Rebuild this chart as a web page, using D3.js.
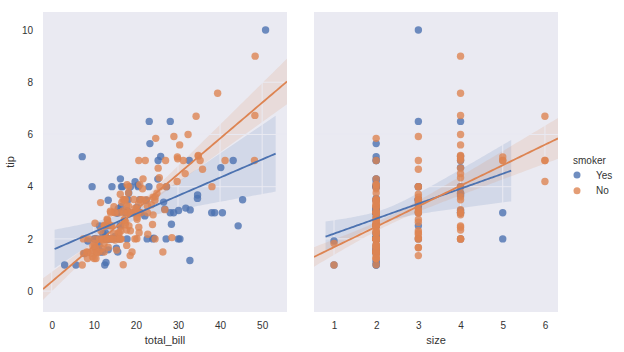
<!DOCTYPE html>
<html>
<head>
<meta charset="utf-8">
<script src="https://cdn.jsdelivr.net/npm/d3@7"></script>
<style>
  body { margin: 0; background: #fff; }
  text { font-family: "Liberation Sans", Arial, sans-serif; fill: #333; }
</style>
</head>
<body>
<div id="container"></div>
<script>
/* DATA (tips: total_bill, tip, size, smoker) */
const totalBill = [16.99,10.34,21.01,23.68,24.59,25.29,8.77,26.88,15.04,14.78,
  10.27,35.26,15.42,18.43,14.83,21.58,10.33,16.29,16.97,20.65,
  17.92,20.29,15.77,39.42,19.82,17.81,13.37,12.69,21.7,19.65,
  9.55,18.35,15.06,20.69,17.78,24.06,16.31,16.93,18.69,31.27,
  16.04,17.46,13.94,9.68,30.4,18.29,22.23,32.4,28.55,18.04,
  12.54,10.29,34.81,9.94,25.56,19.49,38.01,26.41,11.24,48.27,
  20.29,13.81,11.02,18.29,17.59,20.08,16.45,3.07,20.23,15.01,
  12.02,17.07,26.86,25.28,14.73,10.51,17.92,27.2,22.76,17.29,
  19.44,16.66,10.07,32.68,15.98,34.83,13.03,18.28,24.71,21.16,
  28.97,22.49,5.75,16.32,22.75,40.17,27.28,12.03,21.01,12.46,
  11.35,15.38,44.3,22.42,20.92,15.36,20.49,25.21,18.24,14.31,
  14.0,7.25,38.07,23.95,25.71,17.31,29.93,10.65,12.43,24.08,
  11.69,13.42,14.26,15.95,12.48,29.8,8.52,14.52,11.38,22.82,
  19.08,20.27,11.17,12.26,18.26,8.51,10.33,14.15,16.0,13.16,
  17.47,34.3,41.19,27.05,16.43,8.35,18.64,11.87,9.78,7.51,
  14.07,13.13,17.26,24.55,19.77,29.85,48.17,25.0,13.39,16.49,
  21.5,12.66,16.21,13.81,17.51,24.52,20.76,31.71,10.59,10.63,
  50.81,15.81,7.25,31.85,16.82,32.9,17.89,14.48,9.6,34.63,
  34.65,23.33,45.35,23.17,40.55,20.69,20.9,30.46,18.15,23.1,
  15.69,19.81,28.44,15.48,16.58,7.56,10.34,43.11,13.0,13.51,
  18.71,12.74,13.0,16.4,20.53,16.47,26.59,38.73,24.27,12.76,
  30.06,25.89,48.33,13.27,28.17,12.9,28.15,11.59,7.74,30.14,
  12.16,13.42,8.58,15.98,13.42,16.27,10.09,20.45,13.28,22.12,
  24.01,15.69,11.61,10.77,15.53,10.07,12.6,32.83,35.83,29.03,
  27.18,22.67,17.82,18.78]

const tip = [1.01,1.66,3.5,3.31,3.61,4.71,2.0,3.12,1.96,3.23,
  1.71,5.0,1.57,3.0,3.02,3.92,1.67,3.71,3.5,3.35,
  4.08,2.75,2.23,7.58,3.18,2.34,2.0,2.0,4.3,3.0,
  1.45,2.5,3.0,2.45,3.27,3.6,2.0,3.07,2.31,5.0,
  2.24,2.54,3.06,1.32,5.6,3.0,5.0,6.0,2.05,3.0,
  2.5,2.6,5.2,1.56,4.34,3.51,3.0,1.5,1.76,6.73,
  3.21,2.0,1.98,3.76,2.64,3.15,2.47,1.0,2.01,2.09,
  1.97,3.0,3.14,5.0,2.2,1.25,3.08,4.0,3.0,2.71,
  3.0,3.4,1.83,5.0,2.03,5.17,2.0,4.0,5.85,3.0,
  3.0,3.5,1.0,4.3,3.25,4.73,4.0,1.5,3.0,1.5,
  2.5,3.0,2.5,3.48,4.08,1.64,4.06,4.29,3.76,4.0,
  3.0,1.0,4.0,2.55,4.0,3.5,5.07,1.5,1.8,2.92,
  2.31,1.68,2.5,2.0,2.52,4.2,1.48,2.0,2.0,2.18,
  1.5,2.83,1.5,2.0,3.25,1.25,2.0,2.0,2.0,2.75,
  3.5,6.7,5.0,5.0,2.3,1.5,1.36,1.63,1.73,2.0,
  2.5,2.0,2.74,2.0,2.0,5.14,5.0,3.75,2.61,2.0,
  3.5,2.5,2.0,2.0,3.0,3.48,2.24,4.5,1.61,2.0,
  10.0,3.16,5.15,3.18,4.0,3.11,2.0,2.0,4.0,3.55,
  3.68,5.65,3.5,6.5,3.0,5.0,3.5,2.0,3.5,4.0,
  1.5,4.19,2.56,2.02,4.0,1.44,2.0,5.0,2.0,2.0,
  4.0,2.01,2.0,2.5,4.0,3.23,3.41,3.0,2.03,2.23,
  2.0,5.16,9.0,2.5,6.5,1.1,3.0,1.5,1.44,3.09,
  2.2,3.48,1.92,3.0,1.58,2.5,2.0,3.0,2.72,2.88,
  2.0,3.0,3.39,1.47,3.0,1.25,1.0,1.17,4.67,5.92,
  2.0,2.0,1.75,3.0]

const size = [2,3,3,2,4,4,2,4,2,2, 2,4,2,4,2,2,3,3,3,3, 2,2,2,4,2,4,2,2,2,2,
  2,4,2,4,2,3,3,3,3,3, 3,2,2,2,4,2,2,4,3,2, 2,2,4,2,4,2,4,2,2,4,
  2,2,2,4,3,3,2,1,2,2, 2,3,2,2,2,2,2,4,2,2, 2,2,1,2,2,4,2,2,2,2,
  2,2,2,2,2,4,2,2,2,2, 2,2,3,2,2,2,2,2,2,2, 2,1,3,2,3,2,4,2,2,4,
  2,2,2,2,2,6,2,2,2,3, 2,2,2,2,2,2,2,2,2,2, 2,6,5,6,2,2,3,2,2,2,
  2,2,3,4,4,5,6,4,2,4, 4,2,3,2,2,3,2,4,2,2, 3,2,2,2,2,2,2,2,2,2,
  4,2,3,4,2,5,3,5,3,3, 2,2,2,2,2,2,2,4,2,2, 3,2,2,2,4,3,3,4,2,2,
  3,4,4,2,3,2,5,2,2,4, 2,2,1,3,2,2,2,4,2,2, 4,3,2,2,2,2,2,2,3,3,
  2,2,2,2]

// Y = smoker, N = non-smoker, same row order as above
const smokerCodes = "NNNNNNNNNN" + "NNNNNNNNNN" + "NNNNNNNNNN" + "NNNNNNNNNN" + "NNNNNNNNNN" +
  "NNNNNNYNYN" + "YYYYNNNYNY" + "NNYYNNYNNN" + "YNNYNNNNNN" + "YNYYNYYYYN" +
  "YYYYNYYYNY" + "NNNNNNNNNN" + "NNNNNNNNNN" + "NNNNNNNNYN" + "NNNNNNNNNN" +
  "NNNNNNNNNN" + "NNNNYNNNYY" + "YYYYYYYYYY" + "YYYYYNYYYY" + "YYYYYNYYYY" +
  "YYYYYYYYYY" + "YYNYYYYYYY" + "YYYNYYYNNY" + "YYNNYNYYNN" + "YYNN"
const smoker = smokerCodes.split("").map(c => c === "Y" ? "Yes" : "No")

const smokerLevels = ["Yes", "No"]
const colors = ["#4C72B0", "#DD8452"]
const tipTicks = [0, 2, 4, 6, 8, 10]
const billTicks = [0, 10, 20, 30, 40, 50]
const sizeTicks = [1, 2, 3, 4, 5, 6]

/* CONSTANTS AND GLOBALS */
const width = 624, height = 352,
  margin = { top: 12, bottom: 40 },
  radius = 3.7,
  bg = "#EAEAF2"

const data = totalBill.map((d, i) => ({ total_bill: d, tip: tip[i], size: size[i], smoker: smoker[i] }))

const color = d3.scaleOrdinal().domain(smokerLevels).range(colors)

const yScale = d3.scaleLinear()
  .domain([-0.8, 10.69])
  .range([height - margin.bottom, margin.top])

const panels = [
  { key: "total_bill", ticks: billTicks, x: d3.scaleLinear().domain([-2.07, 55.9]).range([43, 287]) },
  { key: "size", ticks: sizeTicks, x: d3.scaleLinear().domain([0.526, 6.31]).range([314, 558]) }
]

// OLS fit with a sandwich (robust) variance for the 95% band
function fitReg(xs, ys) {
  const n = xs.length
  const mx = d3.mean(xs), my = d3.mean(ys)
  let sxx = 0, sxy = 0
  xs.forEach((x, i) => { sxx += (x - mx) ** 2; sxy += (x - mx) * (ys[i] - my) })
  const b = sxy / sxx, a = my - b * mx
  let b00 = 0, b01 = 0, b11 = 0
  xs.forEach((x, i) => {
    const e2 = (ys[i] - (a + b * x)) ** 2, dx = x - mx
    b00 += e2; b01 += e2 * dx; b11 += e2 * dx * dx
  })
  const k = n / (n - 2)
  const v00 = k * b00 / (n * n), v01 = k * b01 / (n * sxx), v11 = k * b11 / (sxx * sxx)
  return x => {
    const dx = x - mx
    const yhat = a + b * x
    const se = Math.sqrt(v00 + 2 * dx * v01 + dx * dx * v11)
    return { x, y: yhat, lo: yhat - 1.96 * se, hi: yhat + 1.96 * se }
  }
}

/* HTML ELEMENTS */
const svg = d3.select("#container")
  .append("svg")
  .attr("width", width)
  .attr("height", height)

panels.forEach((p, pi) => {
  const xScale = p.x
  const [x0, x1] = xScale.range()
  const g = svg.append("g")

  g.append("clipPath").attr("id", "clip" + pi)
    .append("rect")
    .attr("x", x0).attr("y", margin.top)
    .attr("width", x1 - x0).attr("height", height - margin.bottom - margin.top)

  g.append("rect")
    .attr("x", x0).attr("y", margin.top)
    .attr("width", x1 - x0).attr("height", height - margin.bottom - margin.top)
    .attr("fill", bg)

  const plot = g.append("g").attr("clip-path", `url(#clip${pi})`)

  const fits = smokerLevels.map(level => {
    const sub = data.filter(d => d.smoker === level)
    const xs = sub.map(d => d[p.key]), ys = sub.map(d => d.tip)
    const f = fitReg(xs, ys)
    // first level spans its own data range (+5%), later levels the whole axis
    let [lo, hi] = d3.extent(xs)
    const pad = (hi - lo) * 0.05
    let ext = level === "Yes" ? [lo - pad, hi + pad] : xScale.domain()
    const grid = d3.range(101).map(i => f(ext[0] + (ext[1] - ext[0]) * i / 100))
    return { level, sub, grid }
  })

  const area = d3.area()
    .x(d => xScale(d.x))
    .y0(d => yScale(d.lo))
    .y1(d => yScale(d.hi))

  const line = d3.line()
    .x(d => xScale(d.x))
    .y(d => yScale(d.y))

  // confidence bands
  fits.forEach(f => {
    plot.append("path")
      .datum(f.grid)
      .attr("d", area)
      .attr("fill", color(f.level))
      .attr("fill-opacity", 0.15)
  })

  // grid in background colour (only shows over the bands)
  plot.append("g")
    .selectAll("line")
    .data(p.ticks)
    .join("line")
    .attr("x1", d => xScale(d)).attr("x2", d => xScale(d))
    .attr("y1", margin.top).attr("y2", height - margin.bottom)
    .attr("stroke", bg)
  plot.append("g")
    .selectAll("line")
    .data(tipTicks)
    .join("line")
    .attr("x1", x0).attr("x2", x1)
    .attr("y1", d => yScale(d)).attr("y2", d => yScale(d))
    .attr("stroke", bg)

  // points
  fits.forEach(f => {
    plot.append("g")
      .selectAll("circle")
      .data(f.sub)
      .join("circle")
      .attr("cx", d => xScale(d[p.key]))
      .attr("cy", d => yScale(d.tip))
      .attr("r", radius)
      .attr("fill", color(f.level))
      .attr("fill-opacity", 0.8)
  })

  // regression lines
  fits.forEach(f => {
    plot.append("path")
      .datum(f.grid)
      .attr("d", line)
      .attr("fill", "none")
      .attr("stroke", color(f.level))
      .attr("stroke-width", 1.8)
  })

  // axes
  const xAxis = d3.axisBottom(xScale).tickValues(p.ticks).tickFormat(d3.format("d"))
    .tickSize(0).tickPadding(10)
  g.append("g")
    .attr("transform", `translate(0,${height - margin.bottom})`)
    .call(xAxis)
    .call(sel => sel.select(".domain").remove())
    .selectAll("text")
    .style("font-size", "10px")

  g.append("text")
    .attr("x", (x0 + x1) / 2)
    .attr("y", 344)
    .attr("text-anchor", "middle")
    .style("font-size", "11px")
    .text(p.key)

  if (pi === 0) {
    const yAxis = d3.axisLeft(yScale).tickValues(tipTicks).tickSize(0).tickPadding(10)
    g.append("g")
      .attr("transform", `translate(${x0},0)`)
      .call(yAxis)
      .call(sel => sel.select(".domain").remove())
      .selectAll("text")
      .style("font-size", "10px")

    g.append("text")
      .attr("transform", `translate(14,${(margin.top + height - margin.bottom) / 2}) rotate(-90)`)
      .attr("text-anchor", "middle")
      .style("font-size", "11px")
      .text("tip")
  }
})

// legend
const legend = svg.append("g").attr("transform", "translate(573,0)")
legend.append("text")
  .attr("x", 0).attr("y", 164)
  .style("font-size", "10px")
  .text("smoker")
legend.selectAll("g.item")
  .data(smokerLevels)
  .join("g")
  .attr("class", "item")
  .attr("transform", (d, i) => `translate(0,${175 + i * 15.7})`)
  .call(sel => sel.append("circle")
    .attr("cx", 4).attr("cy", 0).attr("r", 3.5)
    .attr("fill", d => color(d)).attr("fill-opacity", 0.8))
  .call(sel => sel.append("text")
    .attr("x", 23).attr("dy", "0.35em")
    .style("font-size", "10px")
    .text(d => d))
</script>
</body>
</html>
